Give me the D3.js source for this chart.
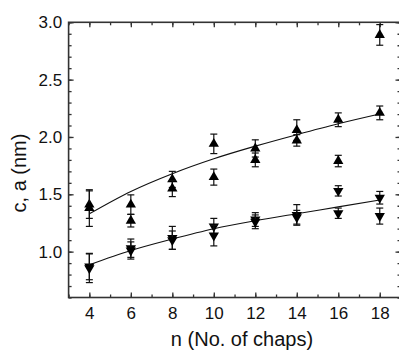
<!DOCTYPE html>
<html>
<head>
<meta charset="utf-8">
<script src="https://cdn.jsdelivr.net/npm/d3@7"></script>
<style>
  body { margin: 0; background: #fff; }
  #vis { width: 399px; height: 351px; overflow: hidden; }
  text { font-family: Arial, "Liberation Sans", Helvetica, sans-serif; fill: #111; }
</style>
</head>
<body>
<div id="vis"></div>
<script>
// number of chaps
var nVals = [4, 6, 8, 10, 12, 14, 16, 18];

// c (upper set, two points per n)
var cA = [1.41, 1.41, 1.63, 1.94, 1.90, 2.06, 2.15, 2.89];
var cAErr = [0.12, 0.085, 0.07, 0.085, 0.075, 0.09, 0.06, 0.09];
var cB = [1.38, 1.27, 1.55, 1.65, 1.80, 1.97, 1.79, 2.21];
var cBErr = [0.16, 0.055, 0.07, 0.07, 0.06, 0.05, 0.05, 0.06];

// a (lower set, two points per n)
var aA = [0.87, 1.03, 1.12, 1.22, 1.28, 1.32, 1.53, 1.47];
var aAErr = [0.115, 0.08, 0.10, 0.07, 0.06, 0.09, 0.045, 0.055];
var aB = [0.855, 1.01, 1.10, 1.14, 1.26, 1.30, 1.335, 1.31];
var aBErr = [0.125, 0.075, 0.08, 0.09, 0.06, 0.06, 0.045, 0.07];

// fitted curves, read at each n
var cFit = [1.33, 1.525, 1.68, 1.81, 1.92, 2.02, 2.115, 2.20];
var aFit = [0.885, 1.01, 1.11, 1.20, 1.27, 1.33, 1.39, 1.45];

var xTicks = [4, 6, 8, 10, 12, 14, 16, 18];
var yTicks = [1.0, 1.5, 2.0, 2.5, 3.0];

var width = 399, height = 351;
var margin = { top: 22.3, bottom: 53.5, left: 68.6, right: -1.5 };

var svg = d3.select('#vis')
    .append('svg')
    .attr('width', width)
    .attr('height', height);

var x_scale = d3.scaleLinear()
    .domain([3, 19])
    .range([margin.left, width - margin.right]);

var y_scale = d3.scaleLinear()
    .domain([0.6, 3.0])
    .range([height - margin.bottom, margin.top]);

var x0 = x_scale.range()[0], x1 = x_scale.range()[1];
var y0 = y_scale.range()[0], y1 = y_scale.range()[1];

var xMinor = d3.range(3, 19.01, 1);
var yMinor = d3.range(0.6, 3.001, 0.1).map(function(d) { return Math.round(d * 10) / 10; });

function styleAxis(g) {
    g.select('.domain').remove();
    g.selectAll('line').attr('stroke', '#333').attr('stroke-width', 1.3);
}

// minor ticks
svg.append('g').attr('transform', 'translate(0,' + y0 + ')')
    .call(d3.axisBottom(x_scale).tickValues(xMinor).tickSize(-3).tickFormat(''))
    .call(styleAxis);
svg.append('g').attr('transform', 'translate(0,' + y1 + ')')
    .call(d3.axisTop(x_scale).tickValues(xMinor).tickSize(-3).tickFormat(''))
    .call(styleAxis);
svg.append('g').attr('transform', 'translate(' + x0 + ',0)')
    .call(d3.axisLeft(y_scale).tickValues(yMinor).tickSize(-3).tickFormat(''))
    .call(styleAxis);
svg.append('g').attr('transform', 'translate(' + x1 + ',0)')
    .call(d3.axisRight(y_scale).tickValues(yMinor).tickSize(-3).tickFormat(''))
    .call(styleAxis);

// major ticks
svg.append('g').attr('transform', 'translate(0,' + y0 + ')')
    .call(d3.axisBottom(x_scale).tickValues(xTicks).tickSize(-5).tickPadding(9))
    .call(styleAxis)
    .selectAll('text').style('font-size', '17px').attr('fill', '#111');
svg.append('g').attr('transform', 'translate(0,' + y1 + ')')
    .call(d3.axisTop(x_scale).tickValues(xTicks).tickSize(-5).tickFormat(''))
    .call(styleAxis);
svg.append('g').attr('transform', 'translate(' + x0 + ',0)')
    .call(d3.axisLeft(y_scale).tickValues(yTicks).tickSize(-5).tickPadding(6.5).tickFormat(d3.format('.1f')))
    .call(styleAxis)
    .selectAll('text').style('font-size', '17px').attr('fill', '#111');
svg.append('g').attr('transform', 'translate(' + x1 + ',0)')
    .call(d3.axisRight(y_scale).tickValues(yTicks).tickSize(-5).tickFormat(''))
    .call(styleAxis);

// frame
svg.append('rect')
    .attr('x', x0).attr('y', y1)
    .attr('width', x1 - x0).attr('height', y0 - y1)
    .attr('fill', 'none').attr('stroke', '#333').attr('stroke-width', 1.6);

// fit curves
var line = d3.line()
    .x(function(d) { return x_scale(d[0]); })
    .y(function(d) { return y_scale(d[1]); })
    .curve(d3.curveMonotoneX);

[cFit, aFit].forEach(function(fit) {
    svg.append('path')
        .datum(nVals.map(function(n, i) { return [n, fit[i]]; }))
        .attr('d', line)
        .attr('fill', 'none')
        .attr('stroke', '#111')
        .attr('stroke-width', 1.1);
});

// points with error bars
function drawSet(vals, errs, up) {
    var data = nVals.map(function(n, i) { return { n: n, v: vals[i], e: errs[i] }; });
    var g = svg.append('g');
    var bars = g.selectAll('.err').data(data).enter().append('g');
    bars.append('line')
        .attr('x1', function(d) { return x_scale(d.n); })
        .attr('x2', function(d) { return x_scale(d.n); })
        .attr('y1', function(d) { return y_scale(d.v - d.e); })
        .attr('y2', function(d) { return y_scale(d.v + d.e); })
        .attr('stroke', '#111').attr('stroke-width', 1.2);
    [-1, 1].forEach(function(s) {
        bars.append('line')
            .attr('x1', function(d) { return x_scale(d.n) - 3.5; })
            .attr('x2', function(d) { return x_scale(d.n) + 3.5; })
            .attr('y1', function(d) { return y_scale(d.v + s * d.e); })
            .attr('y2', function(d) { return y_scale(d.v + s * d.e); })
            .attr('stroke', '#111').attr('stroke-width', 1.2);
    });
    var sym = d3.symbol().type(d3.symbolTriangle).size(46);
    g.selectAll('.pt').data(data).enter().append('path')
        .attr('d', sym)
        .attr('transform', function(d) {
            return 'translate(' + x_scale(d.n) + ',' + y_scale(d.v) + ')' + (up ? '' : ' rotate(180)');
        })
        .attr('fill', '#000');
}

drawSet(cA, cAErr, true);
drawSet(cB, cBErr, true);
drawSet(aA, aAErr, false);
drawSet(aB, aBErr, false);

// axis titles
svg.append('text')
    .attr('x', 242).attr('y', 346)
    .attr('text-anchor', 'middle')
    .style('font-size', '20px')
    .text('n (No. of chaps)');

svg.append('text')
    .attr('transform', 'translate(26,173) rotate(-90)')
    .attr('text-anchor', 'middle')
    .style('font-size', '20px')
    .text('c, a (nm)');
</script>
</body>
</html>
